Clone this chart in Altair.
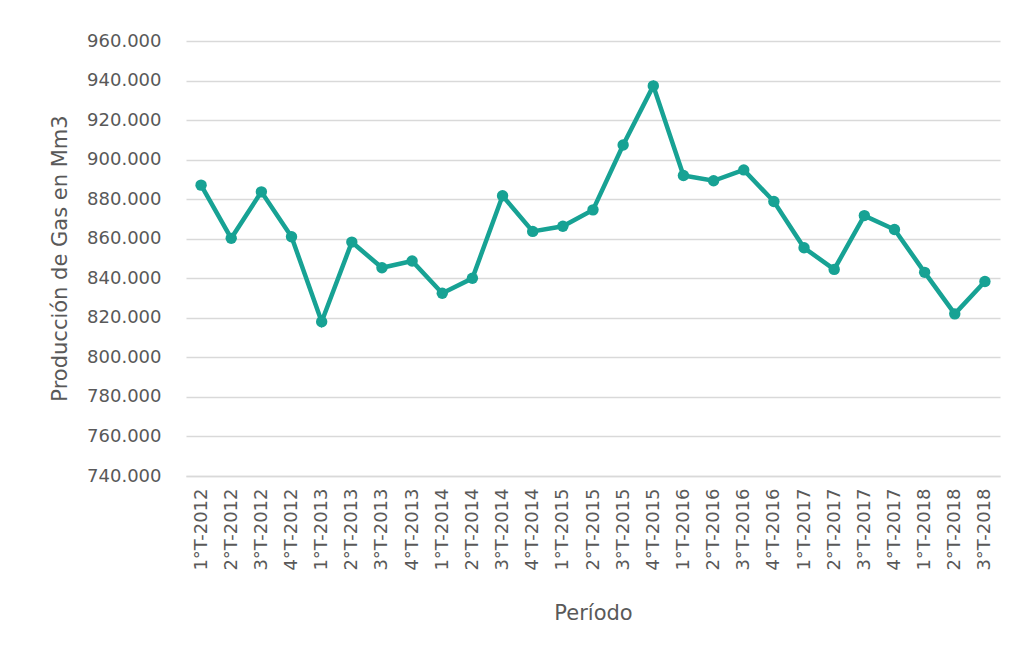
import altair as alt
import pandas as pd

periods = [
    "1°T-2012", "2°T-2012", "3°T-2012", "4°T-2012",
    "1°T-2013", "2°T-2013", "3°T-2013", "4°T-2013",
    "1°T-2014", "2°T-2014", "3°T-2014", "4°T-2014",
    "1°T-2015", "2°T-2015", "3°T-2015", "4°T-2015",
    "1°T-2016", "2°T-2016", "3°T-2016", "4°T-2016",
    "1°T-2017", "2°T-2017", "3°T-2017", "4°T-2017",
    "1°T-2018", "2°T-2018", "3°T-2018",
]
production = [
    887100, 860200, 883700, 861000,
    818000, 858300, 845300, 848700,
    832400, 840000, 881700, 863700,
    866300, 874600, 907400, 937300,
    892000, 889300, 894800, 878800,
    855400, 844500, 871700, 864700,
    843000, 822000, 838400,
]
y_ticks = [740000, 760000, 780000, 800000, 820000, 840000, 860000, 880000,
           900000, 920000, 940000, 960000]

df = pd.DataFrame({"periodo": periods, "valor": production})

COLOR = "#17a294"
TEXT = "#595959"
FONT = "DejaVu Sans"

base = alt.Chart(df).encode(
    x=alt.X(
        "periodo:N",
        sort=periods,
        scale=alt.Scale(paddingInner=0, paddingOuter=0),
        axis=alt.Axis(
            title="Período",
            labelAngle=-90,
            labelPadding=12,
            ticks=False,
            domain=True,
            domainColor="#d9d9d9",
            domainWidth=1.5,
            titleX=407,
            titleY=137,
            titleBaseline="middle",
        ),
    ),
    y=alt.Y(
        "valor:Q",
        scale=alt.Scale(domain=[740000, 960000], nice=False, zero=False),
        axis=alt.Axis(
            title="Producción de Gas en Mm3",
            values=y_ticks,
            labelExpr="replace(format(datum.value, ',.0f'), ',', '.')",
            ticks=False,
            domain=False,
            labelPadding=25,
            titleX=-126,
            titleY=217,
            titleBaseline="middle",
            titleAlign="center",
            titleAngle=-90,
            grid=True,
        ),
    ),
)

line = base.mark_line(color=COLOR, strokeWidth=4.5)
points = base.mark_circle(color=COLOR, size=130, opacity=1)

chart = (
    alt.layer(line, points)
    .properties(
        width=814,
        height=435,
        autosize=alt.AutoSizeParams(type="none"),
        padding={"left": 178, "top": 33, "right": 5, "bottom": 170},
    )
    .configure_view(stroke=None)
    .configure_axis(
        labelFont=FONT,
        titleFont=FONT,
        labelColor=TEXT,
        titleColor=TEXT,
        labelFontSize=18,
        titleFontSize=21,
        titleFontWeight="normal",
        gridColor="#d9d9d9",
        gridWidth=1.5,
    )
)

chart.save("out.html", embed_options={"renderer": "svg", "actions": False})
